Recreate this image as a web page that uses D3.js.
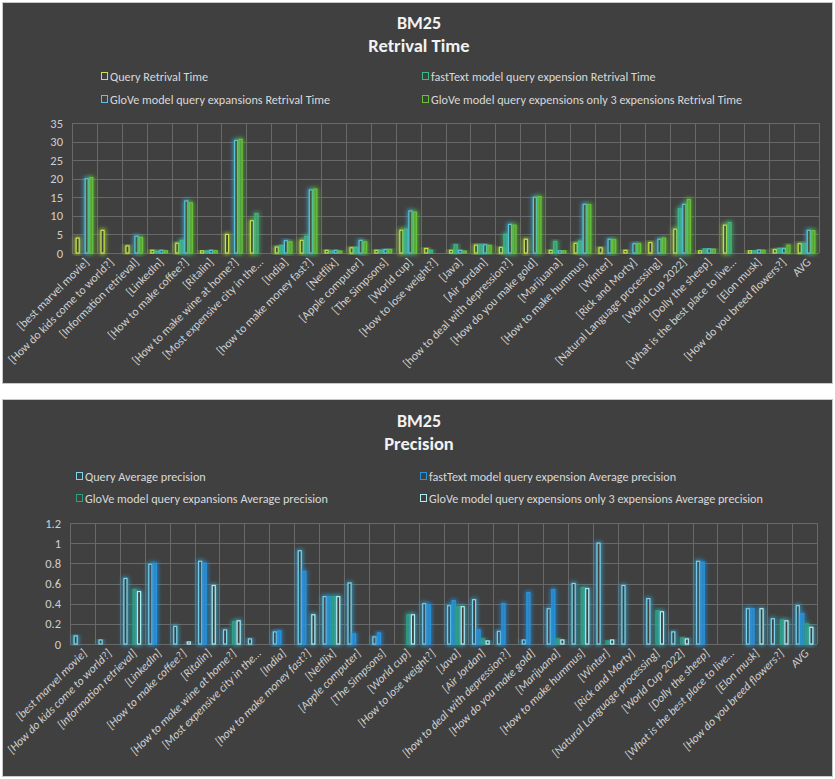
<!DOCTYPE html>
<html><head><meta charset="utf-8">
<script src="https://cdn.jsdelivr.net/npm/d3@7"></script>
<style>
html,body{margin:0;padding:0;background:#fff;}
svg{display:block;font-family:Carlito,"Liberation Sans Narrow","Liberation Sans",Arial,sans-serif;}
</style></head>
<body>
<svg id="chart" width="835" height="779"></svg>
<script>
// ---------- data ----------
const categories = ["[best marvel movie]","[How do kids come to world?]","[Information retrieval]","[LinkedIn]","[How to make coffee?]","[Ritalin]","[How to make wine at home?]","[Most expensive city in the…","[India]","[how to make money fast?]","[Netflix]","[Apple computer]","[The Simpsons]","[World cup]","[How to lose weight?]","[Java]","[Air Jordan]","[how to deal with depression?]","[How do you make gold]","[Marijuana]","[How to make hummus]","[Winter]","[Rick and Morty]","[Natural Language processing]","[World Cup 2022]","[Dolly the sheep]","[What is the best place to live…","[Elon musk]","[How do you breed flowers?]","AVG"];

const timeSeriesNames = ["Query Retrival Time","fastText model query expension Retrival Time","GloVe model  query expansions Retrival Time","GloVe model query expensions only 3 expensions Retrival Time"];
const queryTime    = [4, 6.1, 1.9, 0.7, 2.6, 0.6, 5, 8.7, 1.6, 3.4, 0.7, 1.4, 0.7, 6.1, 1.2, 0.7, 2.1, 1.5, 3.7, 0.7, 2.6, 1.4, 0.7, 2.8, 6.4, 0.6, 7.5, 0.6, 0.9, 2.5];
const fastTextTime = [0, 0, 0, 0.5, 3.4, 0.5, 0, 10.6, 2, 4.5, 0.5, 1.5, 0.7, 6.4, 0.7, 2.2, 2.2, 5, 0, 3.1, 3.2, 0, 0, 0, 11.9, 1.1, 8.2, 0.6, 1.2, 2.5];
const gloveTime    = [20, 0, 4.5, 0.7, 14, 0.7, 30.3, 0, 3.3, 17, 0.7, 3.4, 0.9, 11.3, 0, 0.7, 2.2, 7.7, 15, 0.6, 13.1, 3.7, 2.5, 3.7, 13.1, 1.1, 0, 0.8, 1.2, 6.1];
const glove3Time   = [20.3, 0, 4.2, 0.6, 13.5, 0.6, 30.6, 0, 3, 17.2, 0.5, 3, 0.9, 11, 0, 0.5, 2, 7.5, 15.2, 0.6, 13, 3.6, 2.5, 4, 14.4, 1, 0, 0.7, 2.1, 6];
const timeTicks = [0, 5, 10, 15, 20, 25, 30, 35];

const precSeriesNames = ["Query Average precision","fastText model query expension Average precision","GloVe model  query expansions Average precision","GloVe model query expensions only 3 expensions Average precision"];
const queryPrec    = [0.08, 0.04, 0.65, 0.79, 0.175, 0.82, 0.14, 0.05, 0.12, 0.925, 0.47, 0.605, 0.07, 0, 0.40, 0.38, 0.44, 0.125, 0.04, 0.35, 0.60, 1.0, 0.58, 0.45, 0.12, 0.82, 0, 0.35, 0.25, 0.38];
const fastTextPrec = [0, 0, 0, 0.8, 0, 0.8, 0, 0, 0.13, 0.72, 0.47, 0.1, 0.11, 0, 0.39, 0.43, 0.14, 0.40, 0.51, 0.54, 0, 0, 0, 0, 0, 0.81, 0, 0.35, 0, 0.3];
const glovePrec    = [0, 0, 0.54, 0, 0, 0, 0.22, 0, 0, 0, 0.47, 0, 0, 0.29, 0, 0.37, 0.05, 0, 0, 0.05, 0.56, 0.03, 0, 0.33, 0.06, 0, 0, 0, 0.24, 0.2];
const glove3Prec   = [0, 0, 0.52, 0, 0.02, 0.58, 0.23, 0, 0, 0.29, 0.47, 0, 0, 0.29, 0, 0.37, 0.03, 0, 0, 0.04, 0.55, 0.04, 0, 0.32, 0.05, 0, 0, 0.35, 0.23, 0.165];
const precTicks = [0, 0.2, 0.4, 0.6, 0.8, 1, 1.2];

// ---------- drawing ----------
const FONT = "Carlito,'Liberation Sans Narrow','Liberation Sans',Arial,sans-serif";
const svg = d3.select("#chart");
const defs = svg.append("defs");
let filterCount = 0;
function glow(color, strength) {
  const id = "glow" + (filterCount++);
  const f = defs.append("filter").attr("id", id)
    .attr("x", "-200%").attr("y", "-20%").attr("width", "500%").attr("height", "140%");
  f.append("feMorphology").attr("in", "SourceAlpha").attr("operator", "dilate").attr("radius", 1.2).attr("result", "d");
  f.append("feGaussianBlur").attr("in", "d").attr("stdDeviation", 2).attr("result", "b");
  f.append("feFlood").attr("flood-color", color).attr("flood-opacity", strength);
  f.append("feComposite").attr("in2", "b").attr("operator", "in").attr("result", "g");
  const m = f.append("feMerge");
  m.append("feMergeNode").attr("in", "g");
  m.append("feMergeNode").attr("in", "SourceGraphic");
  return "url(#" + id + ")";
}

function drawChart(cfg) {
  const g = svg.append("g");
  g.append("rect").attr("x", cfg.panel[0] + 0.5).attr("y", cfg.panel[1] + 0.5)
    .attr("width", cfg.panel[2]).attr("height", cfg.panel[3])
    .attr("fill", "#404040").attr("stroke", "#c8c8c8").attr("stroke-width", 1);

  const cx = (cfg.panel[0] + cfg.panel[0] + cfg.panel[2]) / 2 + 2;
  g.append("text").attr("x", cx).attr("y", cfg.titleY).attr("text-anchor", "middle")
    .attr("fill", "#f2f2f2").attr("font-size", 18).attr("font-weight", "bold").text("BM25");
  g.append("text").attr("x", cx).attr("y", cfg.titleY + 23).attr("text-anchor", "middle")
    .attr("fill", "#f2f2f2").attr("font-size", 18.5).attr("font-weight", "bold").text(cfg.subtitle);

  // legend
  cfg.names.forEach((n, i) => {
    const lx = cfg.legendX[i % 2], ly = cfg.legendY[Math.floor(i / 2)];
    g.append("rect").attr("x", lx + 0.5).attr("y", ly - 3.5).attr("width", 6).attr("height", 7)
      .attr("fill", "none").attr("stroke", cfg.colors[i]).attr("stroke-width", 1);
    g.append("text").attr("x", lx + 9).attr("y", ly + 4.5).attr("fill", "#d9d9d9")
      .attr("font-size", 12.2).text(n);
  });

  const x = d3.scaleBand().domain(categories).range([cfg.plot.left, cfg.plot.right]).padding(0);
  const bw = x.bandwidth();
  const gap = bw * 1.5 / 5.5;
  const xs = d3.scaleBand().domain(d3.range(cfg.series.length)).range([gap / 2, bw - gap / 2]).padding(0);
  const y = d3.scaleLinear().domain(cfg.domain).range([cfg.plot.bottom, cfg.plot.top]);

  // gridlines
  const grid = g.append("g").attr("stroke", "#696969").attr("stroke-width", 1).attr("shape-rendering", "crispEdges");
  cfg.ticks.forEach(t => grid.append("line").attr("x1", cfg.plot.left).attr("x2", cfg.plot.right)
    .attr("y1", Math.round(y(t)) + 0.5).attr("y2", Math.round(y(t)) + 0.5));
  categories.concat([null]).forEach((c, i) => {
    const xx = Math.round(cfg.plot.left + i * bw) + 0.5;
    grid.append("line").attr("x1", xx).attr("x2", xx).attr("y1", cfg.plot.top).attr("y2", cfg.plot.bottom);
  });

  // y axis labels
  const yAxis = d3.axisLeft(y).tickValues(cfg.ticks).tickSize(0).tickPadding(9).tickFormat(d3.format("~g"));
  const ya = g.append("g").attr("transform", `translate(${cfg.plot.left},0)`).call(yAxis);
  ya.select(".domain").remove();
  ya.selectAll("text").attr("fill", "#cfcfcf").attr("font-size", 12.5).attr("font-family", FONT);

  // x axis labels
  const xAxis = d3.axisBottom(x).tickSize(0).tickPadding(0);
  const xa = g.append("g").attr("transform", `translate(0,${cfg.plot.bottom})`).call(xAxis);
  xa.select(".domain").remove();
  xa.selectAll("text").attr("fill", "#cfcfcf").attr("font-size", 11.8).attr("font-family", FONT)
    .attr("font-style", cfg.italic ? "italic" : "normal")
    .attr("text-anchor", "end").attr("dy", null).attr("y", 0)
    .attr("transform", "translate(5,10) rotate(-45)");

  // bars
  cfg.series.forEach((vals, si) => {
    const filt = glow(cfg.glowColors[si], 0.8);
    g.append("g").selectAll("rect").data(vals).join("rect")
      .attr("x", (d, i) => x(categories[i]) + xs(si) + 0.75)
      .attr("width", xs.bandwidth() - 1.5)
      .attr("y", d => y(d))
      .attr("height", d => Math.max(0, y(0) - y(d)))
      .attr("fill", cfg.fills[si]).attr("fill-opacity", cfg.fillOpacity[si])
      .attr("stroke", cfg.colors[si]).attr("stroke-width", 1.2)
      .attr("filter", filt)
      .style("display", d => d > 0 ? null : "none");
  });
}

drawChart({
  panel: [2, 2, 830, 381],
  titleY: 29,
  subtitle: "Retrival Time",
  names: timeSeriesNames,
  legendX: [101, 422],
  legendY: [76, 99],
  plot: {left: 72, right: 819, top: 123, bottom: 253},
  domain: [0, 35],
  ticks: timeTicks,
  series: [queryTime, fastTextTime, gloveTime, glove3Time],
  colors: ["#c9e34c", "#3fb884", "#58c6e6", "#69c13c"],
  glowColors: ["#a6d63a", "#3fc070", "#3ab0e0", "#5cbf2c"],
  fills: ["#404040", "#3fb884", "#404040", "#5cb830"],
  fillOpacity: [1, 0.35, 1, 0.45],
  italic: false
});

drawChart({
  panel: [2, 399, 830, 377],
  titleY: 427,
  subtitle: "Precision",
  names: precSeriesNames,
  legendX: [76, 420],
  legendY: [476, 498],
  plot: {left: 70, right: 817, top: 523, bottom: 644},
  domain: [0, 1.2],
  ticks: precTicks,
  series: [queryPrec, fastTextPrec, glovePrec, glove3Prec],
  colors: ["#7fd6ea", "#2a95dc", "#2f9f7e", "#aeeef2"],
  glowColors: ["#2fa8dc", "#1f8fe0", "#2a9f80", "#38b2d8"],
  fills: ["#404040", "#2a8fd6", "#2f9a7a", "#404040"],
  fillOpacity: [1, 0.6, 0.55, 1],
  italic: true
});
</script>
</body></html>
